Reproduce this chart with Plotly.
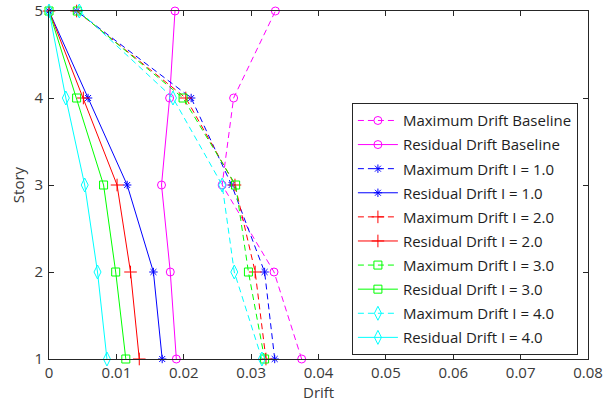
import plotly.graph_objects as go

# Story levels and inter-story drift per case
story = [1, 2, 3, 4, 5]

max_baseline = [0.0375, 0.0334, 0.0257, 0.0274, 0.0336]
res_baseline = [0.0189, 0.0180, 0.0167, 0.0179, 0.0187]
max_i1 = [0.0335, 0.0320, 0.0271, 0.0211, 0.0041]
res_i1 = [0.0168, 0.0155, 0.0116, 0.0058, 0.0]
max_i2 = [0.0322, 0.0306, 0.0276, 0.0203, 0.0041]
res_i2 = [0.0134, 0.0121, 0.0101, 0.0051, 0.0]
max_i3 = [0.0320, 0.0296, 0.0277, 0.0199, 0.0042]
res_i3 = [0.0114, 0.0099, 0.0081, 0.0041, 0.0]
max_i4 = [0.0316, 0.0275, 0.0257, 0.0184, 0.0045]
res_i4 = [0.0086, 0.0072, 0.0053, 0.0025, 0.0]

x_ticks = [0, 0.01, 0.02, 0.03, 0.04, 0.05, 0.06, 0.07, 0.08]
x_tick_text = ["0", "0.01", "0.02", "0.03", "0.04", "0.05", "0.06", "0.07", "0.08"]

series = [
    ("Maximum Drift Baseline", max_baseline, "#ff00ff", "circle-open", 8, True),
    ("Residual Drift Baseline", res_baseline, "#ff00ff", "circle-open", 8, False),
    ("Maximum Drift I = 1.0", max_i1, "#0000ff", "asterisk-open", 7, True),
    ("Residual Drift I = 1.0", res_i1, "#0000ff", "asterisk-open", 7, False),
    ("Maximum Drift I = 2.0", max_i2, "#ff0000", "cross-thin-open", 9, True),
    ("Residual Drift I = 2.0", res_i2, "#ff0000", "cross-thin-open", 9, False),
    ("Maximum Drift I = 3.0", max_i3, "#00ff00", "square-open", 8, True),
    ("Residual Drift I = 3.0", res_i3, "#00ff00", "square-open", 8, False),
    ("Maximum Drift I = 4.0", max_i4, "#00ffff", "diamond-tall-open", 10, True),
    ("Residual Drift I = 4.0", res_i4, "#00ffff", "diamond-tall-open", 10, False),
]

fig = go.Figure()
for name, vals, color, sym, msize, dashed in series:
    fig.add_trace(go.Scatter(
        x=vals, y=story, name=name, mode="lines+markers",
        legendgroup=name,
        line=dict(color=color, width=1, dash="6px,4px" if dashed else "solid"),
        marker=dict(symbol=sym, size=msize, color=color,
                    line=dict(color=color, width=1)),
        cliponaxis=False,
    ))

axis_col = "#262626"
text_col = "#3a3a3a"

fig.update_layout(
    width=603, height=404,
    margin=dict(l=49, r=15, t=11, b=45, autoexpand=False),
    paper_bgcolor="white", plot_bgcolor="white",
    font=dict(family="Open Sans", size=15, color=text_col),
    showlegend=True,
    legend=dict(
        x=0.562, y=0.735, xanchor="left", yanchor="top",
        bgcolor="white", bordercolor=axis_col, borderwidth=1,
        font=dict(family="Open Sans", size=15, color="#1e1e1e"),
        traceorder="grouped", tracegroupgap=1.6, itemwidth=40,
    ),
    xaxis=dict(
        range=[0, 0.08], tickvals=x_ticks, ticktext=x_tick_text,
        showgrid=False, zeroline=False, showline=True, linecolor=axis_col,
        linewidth=1, mirror="ticks", ticks="inside", ticklen=5,
        tickcolor=axis_col, tickfont=dict(size=15), ticklabelstandoff=0,
        ticklabeloverflow="allow", automargin=False,
    ),
    yaxis=dict(
        range=[1, 5], tickvals=story, showgrid=False, zeroline=False,
        showline=True, linecolor=axis_col, linewidth=1, mirror="ticks",
        ticks="inside", ticklen=5, tickcolor=axis_col,
        tickfont=dict(size=15), ticklabelstandoff=2, automargin=False,
        title=dict(text="Story", standoff=6, font=dict(size=15)),
    ),
    annotations=[dict(
        text="Drift", xref="paper", yref="paper", x=0.5, y=-0.095,
        xanchor="center", yanchor="middle", showarrow=False,
        font=dict(size=15, color=text_col),
    )],
)

fig.write_html("out.html")
